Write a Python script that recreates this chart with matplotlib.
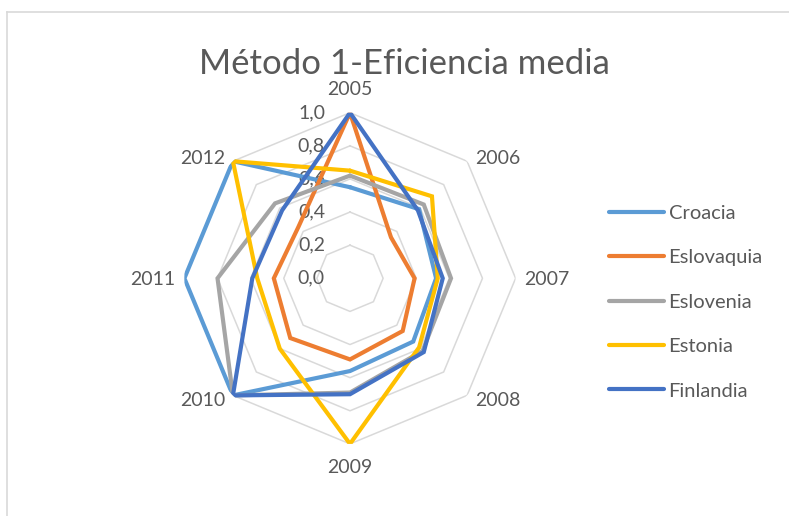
import matplotlib.pyplot as plt
import numpy as np
from matplotlib.lines import Line2D

plt.rcParams['font.family'] = ['Lato', 'DejaVu Sans']

categories = ['2005', '2006', '2007', '2008', '2009', '2010', '2011', '2012']
series_names = ['Croacia', 'Eslovaquia', 'Eslovenia', 'Estonia', 'Finlandia']
croacia = [0.55, 0.59, 0.52, 0.54, 0.56, 1.0, 1.0, 1.0]
eslovaquia = [1.0, 0.35, 0.39, 0.45, 0.49, 0.51, 0.46, 0.44]
eslovenia = [0.62, 0.63, 0.61, 0.62, 0.69, 1.0, 0.80, 0.64]
estonia = [0.65, 0.70, 0.53, 0.59, 1.0, 0.60, 0.56, 1.0]
finlandia = [1.0, 0.58, 0.56, 0.63, 0.70, 1.0, 0.59, 0.58]
radial_ticks = [0.0, 0.2, 0.4, 0.6, 0.8, 1.0]
radial_labels = ['0,0', '0,2', '0,4', '0,6', '0,8', '1,0']

colors = ['#5B9BD5', '#ED7D31', '#A5A5A5', '#FFC000', '#4472C4']
text_color = '#595959'
grid_color = '#D9D9D9'

W, H = 789, 516
fig = plt.figure(figsize=(W / 100, H / 100), dpi=100)
px = 0.72  # points per pixel at 100 dpi

# polar axes placed so centre is at (350, 278) px, radius ~166 px
cx, cy, R = 350, 278.3, 165.6
ax = fig.add_axes([(cx - R) / W, (H - cy - R) / H, 2 * R / W, 2 * R / H],
                  projection='polar')
ax.set_theta_zero_location('N')
ax.set_theta_direction(-1)
ax.set_ylim(0, 1)
ax.grid(False)
ax.spines['polar'].set_visible(False)
ax.set_xticks([])
ax.set_yticks([])
ax.patch.set_alpha(0)

n = len(categories)
theta = np.linspace(0, 2 * np.pi, n, endpoint=False)
theta_closed = np.append(theta, theta[0])

# octagonal gridlines
for lvl in radial_ticks[1:]:
    ax.plot(theta_closed, [lvl] * (n + 1), color=grid_color, lw=1.1, zorder=1)

# radial value labels
for v, lab in zip(radial_ticks, radial_labels):
    ax.annotate(lab, xy=(0, v), xytext=(-25 * px, 0), textcoords='offset points',
                ha='right', va='center', fontsize=14, color=text_color, zorder=2)

# category labels, offset from the outer vertex like Excel does
for t, lab in zip(theta, categories):
    s, c = np.round(np.sin(t), 3), np.round(np.cos(t), 3)
    if abs(c) > 0.99:
        ox, oy = 0, 23.5 * np.sign(c)
    elif abs(s) > 0.99:
        ox, oy = 31.5 * np.sign(s), -1
    else:
        ox, oy = 30.5 * np.sign(s), (3 if c > 0 else -5.5)
    ax.annotate(lab, xy=(t, 1.0), xytext=(ox * px, oy * px),
                textcoords='offset points', ha='center', va='center',
                fontsize=14, color=text_color, zorder=2)

data = [croacia, eslovaquia, eslovenia, estonia, finlandia]
for name, vals, col in zip(series_names, data, colors):
    ax.plot(theta_closed, vals + vals[:1], color=col, lw=3, label=name,
            solid_joinstyle='miter', solid_capstyle='round', zorder=3)

handles, labels = ax.get_legend_handles_labels()
fig.legend(handles, labels, loc='center left',
           bbox_to_anchor=(609 / W, 1 - 302 / H), frameon=False,
           fontsize=14.5, labelcolor=text_color, handlelength=2.74,
           handletextpad=0.22, labelspacing=1.36, borderpad=0, borderaxespad=0)

fig.text(404 / W, 1 - 64 / H, 'Método 1-Eficiencia media', ha='center',
         va='center', fontsize=25, color=text_color)

# chart area border (top and left edges visible)
fig.add_artist(Line2D([7 / W, 1], [1 - 11.5 / H, 1 - 11.5 / H],
                      transform=fig.transFigure, color=grid_color, lw=1.2))
fig.add_artist(Line2D([7 / W, 7 / W], [0, 1 - 11.5 / H],
                      transform=fig.transFigure, color=grid_color, lw=1.2))

fig.savefig('out.png', dpi=100)
